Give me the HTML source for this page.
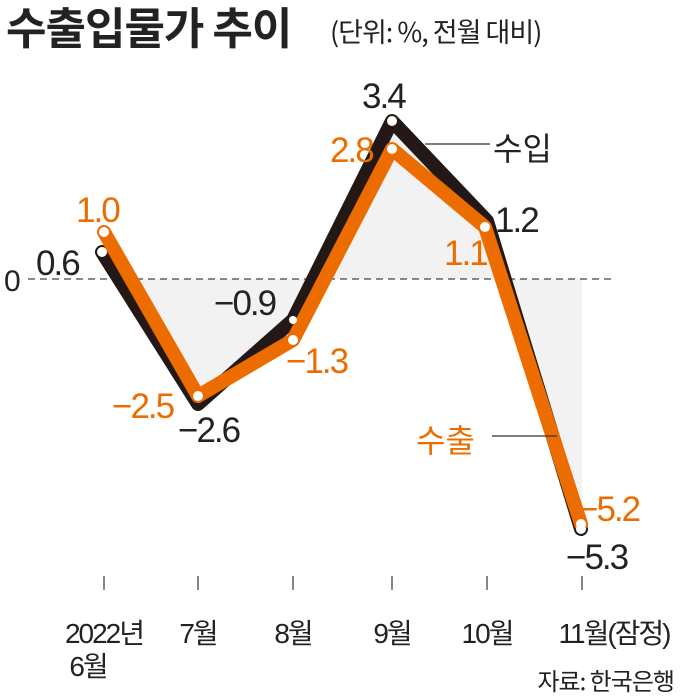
<!DOCTYPE html>
<html><head><meta charset="utf-8"><style>
body{margin:0;background:#fff;}
svg{display:block;font-family:"Liberation Sans","Noto Sans CJK KR",sans-serif;}
</style></head><body>
<svg width="680" height="699" viewBox="0 0 680 699">
<text x="6" y="44" font-size="44" font-weight="bold" fill="#222" font-family="Noto Sans CJK KR, sans-serif" letter-spacing="-1">수출입물가 추이</text>
<text x="330" y="42" font-size="27" fill="#222" font-family="Noto Sans CJK KR, sans-serif" letter-spacing="-1">(단위: %, 전월 대비)</text>
<polygon points="112,279 198,404 293,320 392,121 487,221 582,529 582,279" fill="#f2f2f2"/>
<line x1="28" y1="279" x2="615" y2="279" stroke="#444" stroke-width="1.3" stroke-dasharray="7,5"/>
<text x="4" y="291" font-size="30" fill="#222">0</text>
<polyline points="102,252 198,404 293,320 392,121 487,221 581,529" fill="none" stroke="#231815" stroke-width="14" stroke-linejoin="round" stroke-linecap="round"/>
<polyline points="104,232 198,396 293,340 392,149 485,227 581,524" fill="none" stroke="#ec6c00" stroke-width="14" stroke-linejoin="round" stroke-linecap="round"/>
<g fill="#fff" stroke="none">
<circle cx="102" cy="252" r="5"/><circle cx="392" cy="121" r="5"/><circle cx="293" cy="320" r="4"/><circle cx="581" cy="529" r="5"/>
<circle cx="104" cy="232" r="5"/><circle cx="198" cy="396" r="5"/><circle cx="293" cy="340" r="5"/><circle cx="392" cy="149" r="5"/><circle cx="485" cy="227" r="5"/><circle cx="581" cy="524" r="5"/>
</g>
<line x1="425" y1="144" x2="490" y2="144" stroke="#333" stroke-width="1.2"/>
<line x1="492" y1="436" x2="557" y2="436" stroke="#333" stroke-width="1.2"/>
<g font-size="35" fill="#222" letter-spacing="-2">
<text x="36" y="275">0.6</text>
<text x="362" y="108">3.4</text>
<text x="214" y="315">−0.9</text>
<text x="178" y="442">−2.6</text>
<text x="495" y="232">1.2</text>
<text x="566" y="569">−5.3</text>
</g>
<g font-size="35" fill="#ec6c00" letter-spacing="-2">
<text x="76" y="222">1.0</text>
<text x="330" y="162">2.8</text>
<text x="286" y="373">−1.3</text>
<text x="112" y="418">−2.5</text>
<text x="444" y="265">1.1</text>
<text x="578" y="521">−5.2</text>
</g>
<text x="493" y="160" font-size="32" fill="#222" font-family="Noto Sans CJK KR, sans-serif">수입</text>
<text x="416" y="452" font-size="32" fill="#ec6c00" font-family="Noto Sans CJK KR, sans-serif">수출</text>
<g stroke="#444" stroke-width="1.3">
<line x1="104" y1="576" x2="104" y2="590"/><line x1="198" y1="576" x2="198" y2="590"/><line x1="293" y1="576" x2="293" y2="590"/><line x1="392" y1="576" x2="392" y2="590"/><line x1="487" y1="576" x2="487" y2="590"/><line x1="582" y1="576" x2="582" y2="590"/>
</g>
<g font-size="28" fill="#222" text-anchor="middle" font-family="Liberation Sans, Noto Sans CJK KR, sans-serif" letter-spacing="-2">
<text x="104" y="643">2022년</text>
<text x="88" y="676">6월</text>
<text x="198" y="643">7월</text>
<text x="293" y="643">8월</text>
<text x="392" y="643">9월</text>
<text x="487" y="643">10월</text>
<text x="614" y="643">11월(잠정)</text>
</g>
<text x="674" y="690" font-size="24" fill="#222" text-anchor="end" font-family="Noto Sans CJK KR, sans-serif" letter-spacing="-1">자료: 한국은행</text>
</svg>
</body></html>
